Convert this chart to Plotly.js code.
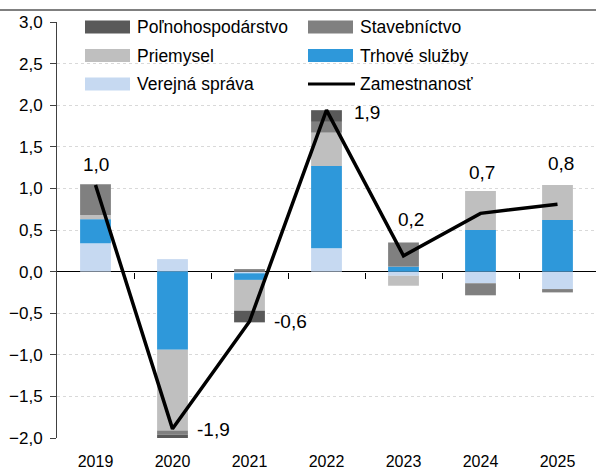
<!DOCTYPE html>
<html>
<head>
<meta charset="utf-8">
<script src="https://cdn.plot.ly/plotly-3.0.1.min.js"></script>
<style>
html,body{margin:0;padding:0;background:#fff;}
#chart{width:596px;height:470px;}
</style>
</head>
<body>
<div id="chart"></div>
<script>
// ---- data ----
const years = ['2019','2020','2021','2022','2023','2024','2025'];
const verejnaSprava   = [0.34, 0.15, -0.02, 0.28, -0.05, -0.14, -0.21];
const trhoveSluzby    = [0.29, -0.94, -0.08, 0.99, 0.06, 0.50, 0.62];
const priemysel       = [0.05, -0.97, -0.37, 0.40, -0.12, 0.47, 0.42];
const stavebnictvo    = [0.37, -0.05, 0.03, 0.13, 0.29, -0.145, -0.04];
const polnohospodarstvo = [0.0, -0.08, -0.14, 0.14, 0.0, 0.0, 0.0];
const zamestnanost    = [1.04, -1.89, -0.60, 1.94, 0.19, 0.70, 0.81];
const zamLabels       = ['1,0','-1,9','-0,6','1,9','0,2','0,7','0,8'];
const yTickVals = [-2.0,-1.5,-1.0,-0.5,0.0,0.5,1.0,1.5,2.0,2.5,3.0];

// ---- style ----
const colors = {
  pol: '#595959', stav: '#808080', prie: '#bfbfbf', trh: '#2e98da', ver: '#c6d9f1'
};
const FONT = 'Liberation Sans, Arial, sans-serif';
const W = 596, H = 470;
const M = {l:57, r:0, t:22, b:32};
const PW = W - M.l - M.r, PH = H - M.t - M.b;
const px = x => (x - M.l) / PW;
const py = y => (H - M.b - y) / PH;

function barTrace(name, vals, color){
  return {type:'bar', name:name, x:years, y:vals, width:0.4,
    marker:{color:color, line:{width:0}}, hoverinfo:'skip', showlegend:false};
}

const idx = years.map((_, i) => i);
const boundaries = years.slice(0, -1).map((_, i) => i + 0.5);

const traces = [
  barTrace('Verejná správa', verejnaSprava, colors.ver),
  barTrace('Trhové služby', trhoveSluzby, colors.trh),
  barTrace('Priemysel', priemysel, colors.prie),
  barTrace('Stavebníctvo', stavebnictvo, colors.stav),
  barTrace('Poľnohospodárstvo', polnohospodarstvo, colors.pol),
  {type:'scatter', mode:'lines', name:'Zamestnanosť', x:years, y:zamestnanost,
    line:{color:'#000', width:3.5}, hoverinfo:'skip', showlegend:false},
  {type:'scatter', mode:'markers', x:boundaries, y:boundaries.map(() => 0), xaxis:'x2',
    marker:{opacity:0}, hoverinfo:'skip', showlegend:false}
];

// label placement (style)
const lblXAnchor = ['center','left','left','left','center','center','center'];
const lblYAnchor = ['bottom','middle','middle','middle','bottom','bottom','bottom'];
const lblXShift  = [0, 22, 22, 25, 7, 1, 3];
const lblYShift  = [8, -1, 0, -2, 24, 28, 28];

const annotations = idx.map(i => ({
  x: i, y: zamestnanost[i], xref:'x2', yref:'y', text: zamLabels[i], showarrow:false,
  xanchor: lblXAnchor[i], yanchor: lblYAnchor[i], xshift: lblXShift[i], yshift: lblYShift[i],
  font:{family:FONT, size:19, color:'#000'}
}));

// manual legend
const legendItems = [
  {name:'Poľnohospodárstvo', color:colors.pol, kind:'bar'},
  {name:'Stavebníctvo', color:colors.stav, kind:'bar'},
  {name:'Priemysel', color:colors.prie, kind:'bar'},
  {name:'Trhové služby', color:colors.trh, kind:'bar'},
  {name:'Verejná správa', color:colors.ver, kind:'bar'},
  {name:'Zamestnanosť', color:'#000', kind:'line'}
];
const legColX = [85, 308], legRowY = [27, 55.5, 84];
const shapes = [
  {type:'line', xref:'paper', yref:'paper', x0:px(0), x1:px(W), y0:py(10), y1:py(10),
   line:{color:'#000', width:1}}
];
legendItems.forEach((it, i) => {
  const cx = legColX[i % 2], cy = legRowY[Math.floor(i / 2)];
  if (it.kind === 'bar') {
    shapes.push({type:'rect', xref:'paper', yref:'paper', x0:px(cx), x1:px(cx+45),
      y0:py(cy+6.5), y1:py(cy-6.5), fillcolor:it.color, line:{width:0}});
  } else {
    shapes.push({type:'line', xref:'paper', yref:'paper', x0:px(cx), x1:px(cx+47),
      y0:py(cy), y1:py(cy), line:{color:it.color, width:3}});
  }
  annotations.push({xref:'paper', yref:'paper', x:px(cx+50), y:py(cy), text:it.name,
    showarrow:false, xanchor:'left', yanchor:'middle',
    font:{family:FONT, size:17.5, color:'#000'}});
});

const layout = {
  width:W, height:H, margin:M,
  paper_bgcolor:'#fff', plot_bgcolor:'#fff',
  font:{family:FONT, color:'#000'},
  separators:', ',
  barmode:'relative', showlegend:false,
  xaxis:{type:'category', categoryorder:'array', categoryarray:years, range:[-0.5, 6.5],
    showline:false, showgrid:false, zeroline:false, ticks:'outside', ticklen:9,
    tickcolor:'rgba(0,0,0,0)', tickfont:{family:FONT, size:16, color:'#000'}, fixedrange:true},
  xaxis2:{type:'linear', overlaying:'x', anchor:'free', position:0.4, range:[-0.5, 6.5],
    tickmode:'array', tickvals:boundaries, ticks:'outside', ticklen:6, tickcolor:'#000',
    showticklabels:false, showgrid:false, zeroline:false, showline:false},
  yaxis:{range:[-2, 3], tickmode:'array', tickvals:yTickVals, tickformat:'.1f',
    showline:true, linecolor:'#404040', linewidth:1, ticks:'outside', ticklen:6,
    tickcolor:'#404040', showgrid:true, gridcolor:'#d9d9d9', griddash:'dot', gridwidth:1,
    zeroline:true, zerolinecolor:'#000', zerolinewidth:1, ticklabelstandoff:4,
    tickfont:{family:FONT, size:17, color:'#000'}, fixedrange:true},
  shapes:shapes, annotations:annotations
};

Plotly.newPlot('chart', traces, layout, {staticPlot:true, displayModeBar:false});
</script>
</body>
</html>
